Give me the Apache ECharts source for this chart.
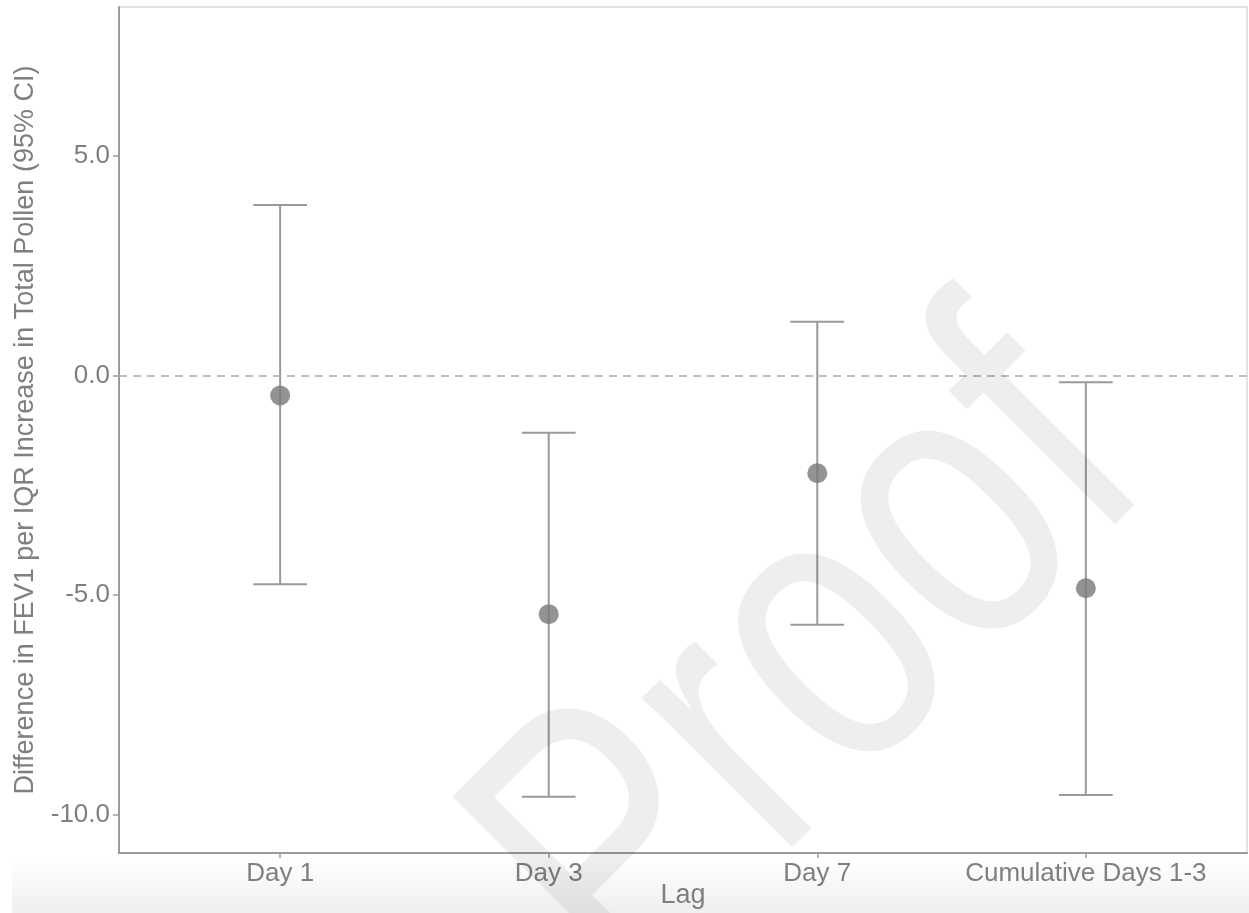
<!DOCTYPE html>
<html>
<head>
<meta charset="utf-8">
<title>Difference in FEV1 per IQR Increase in Total Pollen</title>
<script src="https://cdn.jsdelivr.net/npm/echarts@6/dist/echarts.min.js"></script>
<style>
  html, body { margin: 0; padding: 0; background: #ffffff; }
  #chart { width: 1249px; height: 913px; }
</style>
</head>
<body>
<div id="chart"></div>
<script>
// Lag categories and effect estimates with 95% confidence limits
const lags = ['Day 1', 'Day 3', 'Day 7', 'Cumulative Days 1-3'];
const estimates = [-0.46, -5.44, -2.23, -4.85];
const lowerCI = [-4.76, -9.60, -5.68, -9.56];
const upperCI = [3.88, -1.31, 1.22, -0.16];
const yTicks = [-10, -5, 0, 5];

const FONT = '"Liberation Sans", Arial, Helvetica, sans-serif';
const TEXT_GREY = '#7f7f7f';
const AXIS_GREY = '#9b9b9b';

const positions = lags.map((_, i) => i + 1);
const pointData = positions.map((p, i) => [p, estimates[i]]);
const barData = positions.map((p, i) => [p, lowerCI[i], upperCI[i]]);

const chart = echarts.init(document.getElementById('chart'), null, { renderer: 'canvas' });

const option = {
  animation: false,
  backgroundColor: '#ffffff',
  textStyle: { fontFamily: FONT },
  grid: {
    left: 119, top: 7, width: 1128, height: 846,
    outerBoundsMode: 'none',
    containLabel: false,
    show: true, borderColor: '#dadada', borderWidth: 1.5, backgroundColor: 'transparent'
  },
  xAxis: {
    type: 'value',
    min: 0.4, max: 4.6,
    name: 'Lag',
    nameLocation: 'middle',
    nameGap: 29,
    nameMoveOverlap: false,
    nameTextStyle: { fontSize: 27, color: TEXT_GREY, fontFamily: FONT },
    axisLine: { show: true, onZero: false, lineStyle: { color: AXIS_GREY, width: 2 } },
    axisTick: { show: true, length: 5, lineStyle: { color: AXIS_GREY, width: 1.5 }, customValues: positions },
    axisLabel: {
      customValues: positions,
      formatter: v => lags[Math.round(v) - 1] || '',
      fontSize: 26, color: TEXT_GREY, margin: 8, fontFamily: FONT
    },
    splitLine: { show: false }
  },
  yAxis: {
    type: 'value',
    min: -10.88, max: 8.39,
    name: 'Difference in FEV1 per IQR Increase in Total Pollen (95% CI)',
    nameLocation: 'middle',
    nameGap: 80,
    nameMoveOverlap: false,
    nameTextStyle: { fontSize: 27, color: TEXT_GREY, fontFamily: FONT },
    axisLine: { show: true, onZero: false, lineStyle: { color: AXIS_GREY, width: 2 } },
    axisTick: { show: true, length: 6, lineStyle: { color: AXIS_GREY, width: 1.5 }, customValues: yTicks },
    axisLabel: {
      customValues: yTicks,
      formatter: v => v.toFixed(1),
      fontSize: 26, color: TEXT_GREY, margin: 9, fontFamily: FONT
    },
    splitLine: { show: false }
  },
  graphic: [
    {
      // soft grey fade along the bottom edge
      type: 'rect', z: -10, silent: true,
      shape: { x: 12, y: 858, width: 1237, height: 55 },
      style: {
        fill: new echarts.graphic.LinearGradient(0, 0, 0, 1, [
          { offset: 0, color: '#ffffff' },
          { offset: 1, color: '#efefef' }
        ])
      }
    },
    {
      // diagonal watermark
      type: 'text', z: 100, silent: true,
      x: 815, y: 668,
      rotation: Math.PI / 4,
      scaleX: 0.8, scaleY: 1.03,
      style: {
        text: 'Proof',
        fontFamily: FONT,
        fontSize: 390,
        fill: 'rgba(0,0,0,0.065)',
        align: 'center',
        verticalAlign: 'middle'
      }
    }
  ],
  series: [
    {
      type: 'custom',
      name: '95% CI',
      z: 3,
      data: barData,
      encode: { x: 0, y: [1, 2] },
      renderItem: function (params, api) {
        const x = api.value(0);
        const lo = api.coord([x, api.value(1)]);
        const hi = api.coord([x, api.value(2)]);
        const half = api.size([0.2, 0])[0] / 2;
        const style = { stroke: '#999999', lineWidth: 2, fill: null };
        return {
          type: 'group',
          children: [
            { type: 'line', shape: { x1: lo[0], y1: lo[1], x2: hi[0], y2: hi[1] }, style: style },
            { type: 'line', shape: { x1: hi[0] - half, y1: hi[1], x2: hi[0] + half, y2: hi[1] }, style: style },
            { type: 'line', shape: { x1: lo[0] - half, y1: lo[1], x2: lo[0] + half, y2: lo[1] }, style: style }
          ]
        };
      }
    },
    {
      type: 'scatter',
      name: 'Estimate',
      z: 4,
      data: pointData,
      symbol: 'circle',
      symbolSize: 20,
      itemStyle: { color: '#787878' },
      markLine: {
        silent: true,
        symbol: ['none', 'none'],
        label: { show: false },
        lineStyle: { color: '#aaaaaa', width: 1.5, type: [8, 6] },
        data: [{ yAxis: 0 }]
      }
    }
  ]
};

chart.setOption(option);
</script>
</body>
</html>
